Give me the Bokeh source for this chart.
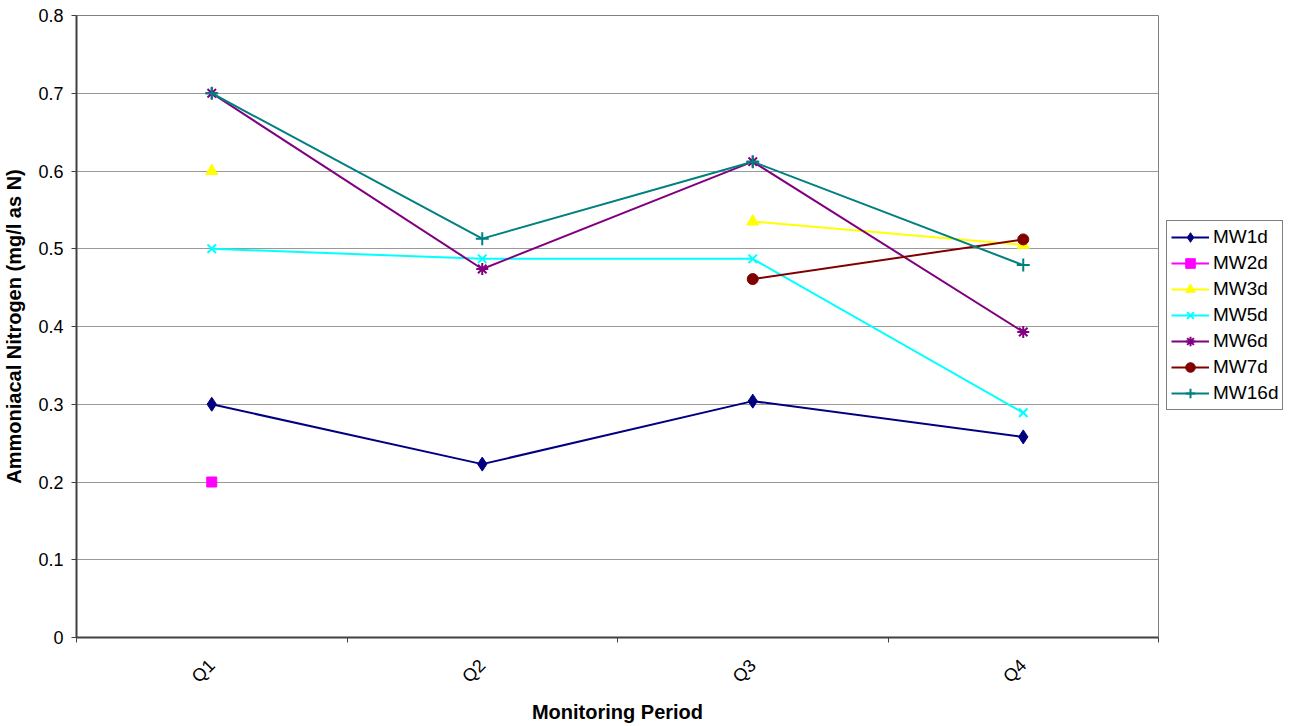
import math
from bokeh.plotting import figure
from bokeh.models import (FixedTicker, CustomJSTickFormatter, Legend, LegendItem,
                          Range1d, ColumnDataSource)
from bokeh.embed import file_html
from bokeh.resources import INLINE

nan = float("nan")

# ---- data ----
periods = ["Q1", "Q2", "Q3", "Q4"]
mw1d = [0.300, 0.223, 0.304, 0.258]
mw2d = [0.200, nan, nan, nan]
mw3d = [0.600, nan, 0.535, 0.505]
mw5d = [0.500, 0.487, 0.487, 0.289]
mw6d = [0.700, 0.474, 0.612, 0.393]
mw7d = [nan, nan, 0.461, 0.512]
mw16d = [0.700, 0.513, 0.612, 0.479]
y_ticks = [0, 0.1, 0.2, 0.3, 0.4, 0.5, 0.6, 0.7, 0.8]

# name, values, colour, marker, size
series = [
    ("MW1d", mw1d, "#000080", "diamond", 14),
    ("MW2d", mw2d, "#FF00FF", "square", 10),
    ("MW3d", mw3d, "#FFFF00", "triangle", 12),
    ("MW5d", mw5d, "#00FFFF", "x", 12),
    ("MW6d", mw6d, "#800080", "asterisk", 12),
    ("MW7d", mw7d, "#800000", "circle", 11),
    ("MW16d", mw16d, "#008080", "cross", 13),
]

FONT = "Liberation Sans"

p = figure(width=1294, height=726, output_backend="svg", toolbar_location=None,
           x_range=Range1d(0.5, 4.5), y_range=Range1d(0, 0.8),
           min_border_left=75, min_border_right=0, min_border_top=15,
           min_border_bottom=89)
p.frame_width = 1082
p.frame_height = 622
p.background_fill_color = "white"
p.border_fill_color = "white"
p.outline_line_color = "#808080"
p.outline_line_width = 1

xs = list(range(1, len(periods) + 1))
items = []
for name, vals, color, marker, size in series:
    src = ColumnDataSource(dict(x=xs, y=vals))
    ln = p.line("x", "y", source=src, line_color=color, line_width=2)
    if marker in ("x", "cross", "asterisk"):
        sc = p.scatter("x", "y", source=src, marker=marker, size=size,
                       line_color=color, line_width=2, fill_color=color)
    else:
        sc = p.scatter("x", "y", source=src, marker=marker, size=size,
                       line_color=color, fill_color=color, line_width=1)
    items.append(LegendItem(label=name, renderers=[ln, sc]))

# x axis
p.xaxis.ticker = FixedTicker(ticks=xs, minor_ticks=[0.5, 1.5, 2.5, 3.5, 4.5])
p.xaxis.formatter = CustomJSTickFormatter(args=dict(labels=periods),
                                          code="return labels[Math.round(tick) - 1];")
p.xaxis.major_label_orientation = math.pi / 4
p.xaxis.major_tick_out = 0
p.xaxis.major_tick_in = 0
p.xaxis.minor_tick_out = 5
p.xaxis.minor_tick_in = 0
p.xaxis.major_label_standoff = 20
p.xaxis.axis_label = "Monitoring Period"
p.xaxis.axis_label_standoff = 4

# y axis
p.yaxis.ticker = FixedTicker(ticks=y_ticks, minor_ticks=[])
p.yaxis.formatter = CustomJSTickFormatter(code="return tick == 0 ? '0' : tick.toFixed(1);")
p.yaxis.major_tick_out = 5
p.yaxis.major_tick_in = 0
p.yaxis.minor_tick_out = 0
p.yaxis.minor_tick_in = 0
p.yaxis.major_label_standoff = 8
p.yaxis.axis_label = "Ammoniacal Nitrogen (mg/l as N)"
p.yaxis.axis_label_standoff = 10

for ax in (p.xaxis, p.yaxis):
    ax.axis_line_color = "#404040"
    ax.axis_line_width = 2
    ax.major_tick_line_color = "#404040"
    ax.minor_tick_line_color = "#404040"
    ax.major_label_text_font = FONT
    ax.major_label_text_font_size = "18px"
    ax.major_label_text_color = "black"
    ax.axis_label_text_font = FONT
    ax.axis_label_text_font_size = "20px"
    ax.axis_label_text_font_style = "bold"
    ax.axis_label_text_color = "black"

p.xgrid.grid_line_color = None
p.ygrid.ticker = FixedTicker(ticks=y_ticks)
p.ygrid.grid_line_color = "#999999"
p.ygrid.grid_line_width = 1

legend = Legend(items=items, location=(8, 227))
legend.border_line_color = "black"
legend.border_line_width = 1
legend.background_fill_color = "white"
legend.background_fill_alpha = 1
legend.label_text_font = FONT
legend.label_text_font_size = "19px"
legend.label_text_color = "black"
legend.glyph_width = 38
legend.glyph_height = 24
legend.label_height = 20
legend.label_standoff = 4
legend.spacing = 2
legend.padding = 4
legend.margin = 10
p.add_layout(legend, "right")

open("out.html", "w").write(file_html(p, INLINE))
